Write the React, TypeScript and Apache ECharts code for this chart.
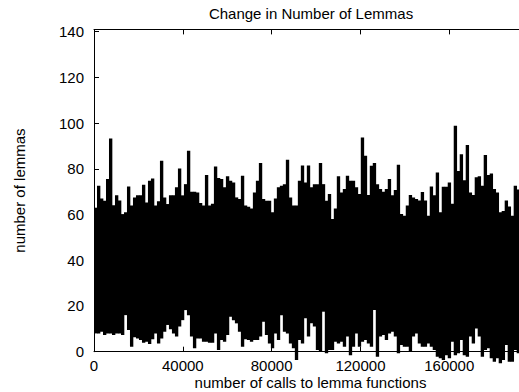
import React, { useEffect, useRef } from "react";
import * as echarts from "echarts";

const chartTitle = "Change in Number of Lemmas";
const xAxisName = "number of calls to lemma functions";
const yAxisName = "number of lemmas";
const xTickStep = 40000;
const xMax = 195000;
const yTickStep = 20;
const yMax = 141;
const callsPerSample = 1350;

// highest value reached in each column
const upperEnvelope = [
  63, 72.6, 67, 66, 75.5, 93.3, 64.1, 68.4, 66.2, 60.2, 61, 72.3, 64, 67.5, 68.4, 68.4, 73, 65.3,
  74.8, 75.8, 64, 65.8, 83.5, 67.5, 64.6, 68.4, 68.4, 71.9, 80.2, 68.4, 73.3, 87.9, 70, 70, 69.7, 65,
  64, 77.3, 64, 64.7, 81, 76, 75.6, 71.9, 76.8, 74.8, 74, 67.5, 66.8, 77, 64, 63.4, 62.7, 69.7,
  74.8, 82.5, 66.8, 66, 66, 61, 67, 71.9, 72.6, 73.3, 84, 67.5, 64, 64, 74.8, 81.5, 74, 81.5,
  71.9, 73.3, 73.3, 82.5, 73.3, 66, 69, 58, 62.6, 76.8, 69.7, 71.2, 77, 74.8, 74.8, 71.9, 69, 93.7,
  85.7, 68.6, 81.3, 82.5, 73.3, 71.2, 70, 71.2, 75.5, 68.4, 70.7, 81.8, 60.2, 59.5, 64, 68.6, 67.5, 66.8,
  66.2, 69.9, 66.2, 59.5, 72.3, 68.4, 78.4, 61, 72.2, 72.2, 74, 64.7, 98.8, 79, 86.4, 75, 90.4, 69.7,
  68.6, 76.3, 76.8, 72.6, 86, 77.3, 78, 71.2, 69.7, 61, 61.6, 66.2, 63.5, 59.5, 72.6, 71, 80.5,
];

// lowest value reached in each column
const lowerEnvelope = [
  8, 8, 8.7, 7.3, 8, 8, 7.3, 8, 8, 7.3, 16, 9.5, 2.2, 6.3, 5.8, 5.1, 3.9, 4.4,
  3.4, 5.4, 8, 3.6, 5.8, 8.7, 11.7, 9.8, 8, 6.6, 11, 13.8, 18.2, 16, 6.6, 1.5, 5.8, 5.8,
  4.4, 4.4, 3.9, 3.9, 8, 0.7, 5.1, 4.4, 7.3, 15.3, 13.8, 12.4, 8.7, 2.2, 5.4, 5.1, 4.4, 5.1,
  5.1, 6.6, 13.1, 7.3, 3.6, 1.5, 8, 5.1, 16, 8.7, 8, 3.6, 1.5, -3.6, 5.1, 3.6, 14.6, 6.6,
  12.5, 11, 0.7, 0, 17.5, -0.7, 0.7, 0.7, 4.4, 3.6, 4.4, 2.2, 6.6, -1.5, 2.2, 8, 2.2, 4.4,
  5.1, 3.6, 2.2, 18.2, -2.2, 6.6, 7.3, 5.1, 8, 8.7, 6.6, -0.7, 2.9, 2.2, 2.2, 0, 6.6, 8,
  3.6, 2.2, 2.2, 3.6, 2.2, 0.7, -2.2, -2.9, -3.6, -1.5, -2.9, 4.4, -1.5, -0.7, 5.1, -1.5, -2.2, 6.6,
  3.6, 10.2, 6.6, -2.2, 0.7, 1.5, -2.9, -4.4, -2.9, -5.1, -3.6, 2.9, -4.4, -4.4, 0.7, -0.7, 3.6,
];

const FONT = '"Liberation Sans", Arial, Helvetica, sans-serif';

export default function App() {
  const ref = useRef<HTMLDivElement>(null);

  useEffect(() => {
    if (!ref.current) return;
    const chart = echarts.init(ref.current, undefined, { renderer: "svg" });

    const n = Math.min(upperEnvelope.length, lowerEnvelope.length);
    // one column per sample: [start call, lowest, highest]
    const columns: [number, number, number][] = [];
    for (let i = 0; i < n; i++) {
      columns.push([i * callsPerSample, lowerEnvelope[i], upperEnvelope[i]]);
    }

    const labelStyle = { color: "#000", fontSize: 15, fontFamily: FONT };
    const tickStyle = { show: true, inside: true, length: 5, lineStyle: { color: "#000", width: 1 } };
    const lineStyle = { show: true, lineStyle: { color: "#000", width: 1 } };

    chart.setOption({
      animation: false,
      backgroundColor: "#fff",
      graphic: [
        {
          type: "text",
          x: 311,
          y: 6,
          style: {
            text: chartTitle,
            fill: "#000",
            font: `15px ${FONT}`,
            align: "center",
            verticalAlign: "top",
          },
        },
      ],
      grid: {
        left: 94,
        top: 29.4,
        width: 433,
        height: 322.3,
        containLabel: false,
        outerBoundsMode: "none",
      },
      xAxis: [
        {
          type: "value",
          position: "bottom",
          min: 0,
          max: xMax,
          interval: xTickStep,
          name: xAxisName,
          nameLocation: "middle",
          nameGap: 24.9,
          nameMoveOverlap: false,
          nameTextStyle: { ...labelStyle, lineHeight: 12 },
          axisLine: lineStyle,
          axisTick: tickStyle,
          axisLabel: {
            ...labelStyle,
            lineHeight: 12,
            margin: 7.9,
            showMaxLabel: false,
            formatter: (v: number) => (v % xTickStep === 0 ? String(v) : ""),
          },
          splitLine: { show: false },
        },
        {
          type: "value",
          position: "top",
          min: 0,
          max: xMax,
          interval: xTickStep,
          axisLine: lineStyle,
          axisTick: tickStyle,
          axisLabel: { show: false },
          splitLine: { show: false },
        },
      ],
      yAxis: {
        type: "value",
        min: 0,
        max: yMax,
        interval: yTickStep,
        name: yAxisName,
        nameLocation: "middle",
        nameGap: 67,
        nameRotate: 90,
        nameMoveOverlap: false,
        nameTextStyle: labelStyle,
        axisLine: lineStyle,
        axisTick: tickStyle,
        axisLabel: {
          ...labelStyle,
          margin: 10,
          showMaxLabel: false,
          formatter: (v: number) => (v % yTickStep === 0 ? String(v) : ""),
        },
        splitLine: { show: false },
      },
      series: [
        {
          type: "custom",
          data: columns,
          xAxisIndex: 0,
          yAxisIndex: 0,
          clip: false,
          silent: true,
          z: 5,
          encode: { x: 0, y: [1, 2] },
          renderItem: (_params: any, api: any) => {
            const x0 = api.value(0);
            const lo = api.value(1);
            const hi = api.value(2);
            const pTop = api.coord([x0, hi]);
            const pBottom = api.coord([x0 + callsPerSample, lo]);
            return {
              type: "rect",
              shape: {
                x: pTop[0],
                y: pTop[1],
                width: pBottom[0] - pTop[0] + 0.35,
                height: pBottom[1] - pTop[1],
              },
              style: { fill: "#000", stroke: null },
            };
          },
        },
      ],
    });

    return () => chart.dispose();
  }, []);

  return (
    <div
      style={{
        position: "fixed",
        left: 0,
        top: 0,
        width: 519,
        height: 392,
        overflow: "hidden",
        background: "#fff",
      }}
    >
      <div ref={ref} style={{ width: 560, height: 392 }} />
    </div>
  );
}
